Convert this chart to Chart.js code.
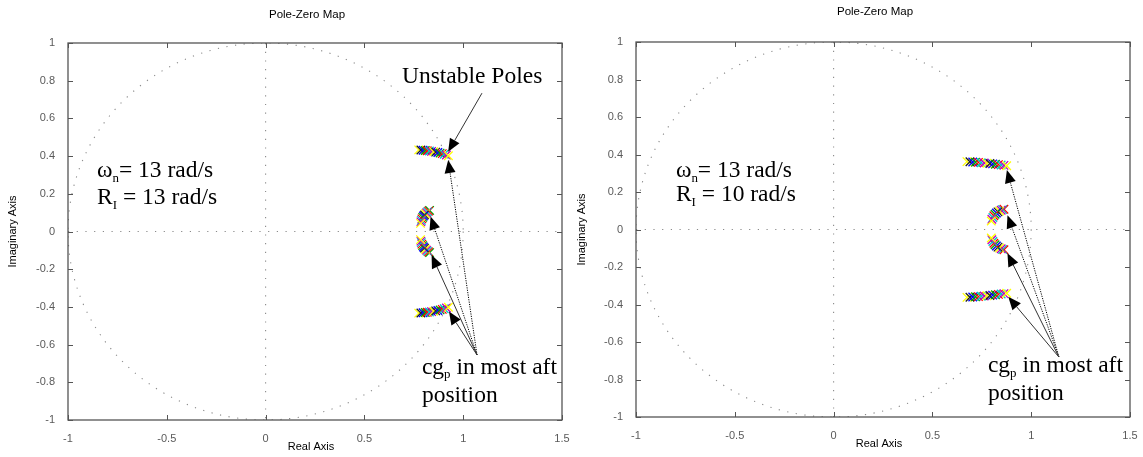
<!DOCTYPE html>
<html><head><meta charset="utf-8">
<script src="https://cdn.jsdelivr.net/npm/chart.js@4.4.0/dist/chart.umd.min.js"></script>
<style>
html,body{margin:0;padding:0;background:#fff;}
#wrap{position:relative;width:1143px;height:457px;overflow:hidden;}
canvas{position:absolute;top:0;}
</style></head><body>
<div id="wrap">
<canvas id="c1" width="585" height="457" style="left:0;width:585px;height:457px"></canvas>
<canvas id="c2" width="572" height="457" style="left:571px;width:572px;height:457px"></canvas>
</div>
<script>
// ---- tick labels ----
const xTickValues = [-1, -0.5, 0, 0.5, 1, 1.5];
const xTickLabels = ['-1', '-0.5', '0', '0.5', '1', '1.5'];
const yTickValues = [-1, -0.8, -0.6, -0.4, -0.2, 0, 0.2, 0.4, 0.6, 0.8, 1];
const yTickLabels = ['-1', '-0.8', '-0.6', '-0.4', '-0.2', '0', '0.2', '0.4', '0.6', '0.8', '1'];

// ---- left map (wn = 13, RI = 13) pole branches ----
const leftUpperRe = [0.775, 0.786, 0.797, 0.808, 0.818, 0.829, 0.840, 0.851, 0.861, 0.872, 0.883, 0.894, 0.904, 0.915, 0.925];
const leftUpperIm = [0.433, 0.432, 0.431, 0.430, 0.428, 0.427, 0.425, 0.423, 0.421, 0.419, 0.416, 0.413, 0.410, 0.406, 0.402];
const leftLowerRe = [0.775, 0.786, 0.797, 0.808, 0.818, 0.829, 0.840, 0.851, 0.861, 0.872, 0.883, 0.894, 0.904, 0.915, 0.925];
const leftLowerIm = [-0.433, -0.432, -0.431, -0.430, -0.428, -0.427, -0.425, -0.423, -0.421, -0.419, -0.416, -0.413, -0.410, -0.406, -0.402];
const leftMidUpperRe = [0.830, 0.825, 0.819, 0.814, 0.809, 0.804, 0.799, 0.795, 0.791, 0.788, 0.786, 0.784];
const leftMidUpperIm = [0.112, 0.108, 0.104, 0.099, 0.094, 0.088, 0.082, 0.075, 0.067, 0.059, 0.051, 0.043];
const leftMidLowerRe = [0.830, 0.825, 0.819, 0.814, 0.809, 0.804, 0.799, 0.795, 0.791, 0.788, 0.786, 0.784];
const leftMidLowerIm = [-0.112, -0.108, -0.104, -0.099, -0.094, -0.088, -0.082, -0.075, -0.067, -0.059, -0.051, -0.043];

// ---- right map (wn = 13, RI = 10) pole branches ----
const rightUpperRe = [0.675, 0.690, 0.704, 0.718, 0.733, 0.747, 0.762, 0.776, 0.791, 0.805, 0.819, 0.834, 0.848, 0.862, 0.876];
const rightUpperIm = [0.362, 0.361, 0.360, 0.359, 0.358, 0.356, 0.355, 0.353, 0.352, 0.350, 0.348, 0.346, 0.344, 0.342, 0.340];
const rightLowerRe = [0.675, 0.690, 0.704, 0.718, 0.733, 0.747, 0.762, 0.776, 0.791, 0.805, 0.819, 0.834, 0.848, 0.862, 0.876];
const rightLowerIm = [-0.362, -0.361, -0.360, -0.359, -0.358, -0.356, -0.355, -0.353, -0.352, -0.350, -0.348, -0.346, -0.344, -0.342, -0.340];
const rightMidUpperRe = [0.862, 0.855, 0.848, 0.840, 0.832, 0.824, 0.817, 0.811, 0.806, 0.801, 0.798];
const rightMidUpperIm = [0.108, 0.106, 0.103, 0.099, 0.094, 0.088, 0.081, 0.073, 0.064, 0.055, 0.045];
const rightMidLowerRe = [0.862, 0.855, 0.848, 0.840, 0.832, 0.824, 0.817, 0.811, 0.806, 0.801, 0.798];
const rightMidLowerIm = [-0.108, -0.106, -0.103, -0.099, -0.094, -0.088, -0.081, -0.073, -0.064, -0.055, -0.045];

// ---- annotation texts ----
const leftNotes = { wn: '= 13 rad/s', ri: ' = 13 rad/s' };
const rightNotes = { wn: '= 13 rad/s', ri: ' = 10 rad/s' };

const palette = ['#0000ff', '#00a000', '#ff0000', '#00c8c8', '#c000c0', '#ffff00', '#202020'];

function branch(re, im) {
  return {
    type: 'scatter',
    data: re.map((v, i) => ({ x: v, y: im[i] })),
    pointStyle: 'crossRot',
    pointRadius: 6,
    pointHoverRadius: 6,
    pointBorderWidth: 1.3,
    pointBorderColor: (c) => {
      const n = c.dataset.data.length;
      const k = ((5 - (n - 1 - c.dataIndex)) % 7 + 7) % 7;
      return palette[k];
    },
    pointBackgroundColor: 'rgba(0,0,0,0)',
    showLine: false
  };
}

function richText(ctx, parts, x, y, size) {
  let cx = x;
  for (const p of parts) {
    if (p.sub) {
      ctx.font = (size * 0.55) + 'px "Liberation Serif", "Times New Roman", serif';
      ctx.fillText(p.t, cx, y + size * 0.2);
    } else {
      ctx.font = size + 'px "Liberation Serif", "Times New Roman", serif';
      ctx.fillText(p.t, cx, y);
    }
    cx += ctx.measureText(p.t).width;
  }
}

function arrow(ctx, x0, y0, x1, y1, dashed) {
  const a = Math.atan2(y1 - y0, x1 - x0);
  const L = 13, W = 5.5;
  const bx = x1 - L * Math.cos(a), by = y1 - L * Math.sin(a);
  ctx.save();
  ctx.strokeStyle = dashed ? '#000' : '#333';
  ctx.lineWidth = 1;
  ctx.setLineDash(dashed ? [1.2, 1.2] : []);
  ctx.beginPath(); ctx.moveTo(x0, y0); ctx.lineTo(bx, by); ctx.stroke();
  ctx.setLineDash([]);
  ctx.fillStyle = '#000';
  ctx.beginPath();
  ctx.moveTo(x1, y1);
  ctx.lineTo(bx - W * Math.sin(a), by + W * Math.cos(a));
  ctx.lineTo(bx + W * Math.sin(a), by - W * Math.cos(a));
  ctx.closePath(); ctx.fill();
  ctx.restore();
}

const pzDecor = {
  id: 'pzDecor',
  beforeDatasetsDraw(chart, args, o) {
    const { ctx, chartArea: ca, scales: { x, y } } = chart;
    ctx.save();
    ctx.beginPath(); ctx.rect(ca.left, ca.top, ca.right - ca.left, ca.bottom - ca.top); ctx.clip();
    ctx.strokeStyle = '#8a8a8a'; ctx.lineWidth = 1.1; ctx.setLineDash([1.2, 7.5]);
    ctx.beginPath(); ctx.moveTo(x.getPixelForValue(0), ca.top); ctx.lineTo(x.getPixelForValue(0), ca.bottom); ctx.stroke();
    ctx.beginPath(); ctx.moveTo(ca.left, y.getPixelForValue(0)); ctx.lineTo(ca.right, y.getPixelForValue(0)); ctx.stroke();
    const cx = x.getPixelForValue(0), cy = y.getPixelForValue(0);
    const rx = x.getPixelForValue(1) - cx, ry = cy - y.getPixelForValue(1);
    ctx.beginPath(); ctx.ellipse(cx, cy, rx, ry, 0, 0, Math.PI * 2); ctx.stroke();
    ctx.restore();
  },
  afterDatasetsDraw(chart, args, o) {
    const { ctx, chartArea: ca, scales: { x, y } } = chart;
    ctx.save();
    // box
    ctx.strokeStyle = '#555'; ctx.lineWidth = 1.3; ctx.setLineDash([]);
    ctx.strokeRect(ca.left, ca.top, ca.right - ca.left, ca.bottom - ca.top);
    // inner ticks
    ctx.lineWidth = 1; ctx.strokeStyle = '#555';
    ctx.beginPath();
    xTickValues.forEach(v => {
      const px = Math.round(x.getPixelForValue(v)) + 0.5;
      ctx.moveTo(px, ca.bottom); ctx.lineTo(px, ca.bottom - 5);
      ctx.moveTo(px, ca.top); ctx.lineTo(px, ca.top + 5);
    });
    yTickValues.forEach(v => {
      const py = Math.round(y.getPixelForValue(v)) + 0.5;
      ctx.moveTo(ca.left, py); ctx.lineTo(ca.left + 5, py);
      ctx.moveTo(ca.right, py); ctx.lineTo(ca.right - 5, py);
    });
    ctx.stroke();
    // titles
    ctx.fillStyle = '#000';
    ctx.font = '11.5px "Liberation Sans", Arial, sans-serif';
    ctx.textAlign = 'center'; ctx.textBaseline = 'middle';
    const mid = (ca.left + ca.right) / 2;
    ctx.fillText('Pole-Zero Map', mid - 8, o.titleY);
    ctx.font = '11px "Liberation Sans", Arial, sans-serif';
    ctx.fillText('Real Axis', mid - 4, o.xlabelY);
    ctx.save();
    ctx.translate(o.ylabelX, (ca.top + ca.bottom) / 2);
    ctx.rotate(-Math.PI / 2);
    ctx.fillText('Imaginary Axis', 0, 0);
    ctx.restore();
    // notes
    ctx.textAlign = 'left'; ctx.textBaseline = 'alphabetic';
    const fs = 23.5;
    const n = o.notes;
    richText(ctx, [{ t: 'ω' }, { t: 'n', sub: true }, { t: n.wn }], x.getPixelForValue(n.pos[0]), y.getPixelForValue(n.pos[1]), fs);
    richText(ctx, [{ t: 'R' }, { t: 'I', sub: true }, { t: n.ri }], x.getPixelForValue(n.pos[0]), y.getPixelForValue(n.pos[2]), fs);
    richText(ctx, [{ t: 'cg' }, { t: 'p', sub: true }, { t: ' in most aft' }], x.getPixelForValue(o.cg[0]), y.getPixelForValue(o.cg[1]), fs);
    richText(ctx, [{ t: 'position' }], x.getPixelForValue(o.cg[0]), y.getPixelForValue(o.cg[2]), fs);
    if (o.unstable) {
      richText(ctx, [{ t: 'Unstable Poles' }], x.getPixelForValue(o.unstable.pos[0]), y.getPixelForValue(o.unstable.pos[1]), fs);
      const a = o.unstable.arrow;
      arrow(ctx, x.getPixelForValue(a[0]), y.getPixelForValue(a[1]), x.getPixelForValue(a[2]), y.getPixelForValue(a[3]), false);
    }
    const org = o.origin;
    o.tips.forEach(t => arrow(ctx, x.getPixelForValue(org[0]), y.getPixelForValue(org[1]), x.getPixelForValue(t[0]), y.getPixelForValue(t[1]), t[2]));
    ctx.restore();
  }
};

function makeChart(id, datasets, pad, axisH, axisW, deco) {
  return new Chart(document.getElementById(id), {
    type: 'scatter',
    data: { datasets },
    plugins: [pzDecor],
    options: {
      responsive: false,
      animation: false,
      events: [],
      layout: { padding: { top: pad.top, right: pad.right, left: 0, bottom: 0 } },
      plugins: { legend: { display: false }, tooltip: { enabled: false }, title: { display: false }, pzDecor: deco },
      scales: {
        x: {
          type: 'linear', min: -1, max: 1.5,
          afterBuildTicks: s => { s.ticks = xTickValues.map(v => ({ value: v })); },
          afterFit: s => { s.height = axisH; },
          grid: { display: false }, border: { display: false },
          ticks: { padding: 4, color: '#5a5a5a', font: { family: '"Liberation Sans", Arial, sans-serif', size: 11 },
                   maxRotation: 0, autoSkip: false,
                   callback: (v, i) => xTickLabels[i] }
        },
        y: {
          type: 'linear', min: -1, max: 1,
          afterBuildTicks: s => { s.ticks = yTickValues.map(v => ({ value: v })); },
          afterFit: s => { s.width = axisW; },
          grid: { display: false }, border: { display: false },
          ticks: { padding: 5, color: '#5a5a5a', font: { family: '"Liberation Sans", Arial, sans-serif', size: 11 },
                   autoSkip: false,
                   callback: (v, i) => yTickLabels[i] }
        }
      }
    }
  });
}

makeChart('c1',
  [branch(leftUpperRe, leftUpperIm), branch(leftLowerRe, leftLowerIm), branch(leftMidUpperRe, leftMidUpperIm), branch(leftMidLowerRe, leftMidLowerIm)],
  { top: 43, right: 23 }, 37, 68,
  {
    titleY: 15, xlabelY: 447, ylabelX: 13,
    notes: { wn: leftNotes.wn, ri: leftNotes.ri, pos: [-0.853, 0.289, 0.146] },
    cg: [0.791, -0.754, -0.904],
    unstable: { pos: [0.69, 0.788], arrow: [1.095, 0.734, 0.924, 0.423] },
    origin: [1.07, -0.655],
    tips: [[0.924, 0.379, true], [0.835, 0.079, true], [0.84, -0.125, false], [0.928, -0.425, false]]
  });

makeChart('c2',
  [branch(rightUpperRe, rightUpperIm), branch(rightLowerRe, rightLowerIm), branch(rightMidUpperRe, rightMidUpperIm), branch(rightMidLowerRe, rightMidLowerIm)],
  { top: 42, right: 13 }, 40, 65,
  {
    titleY: 12, xlabelY: 444, ylabelX: 11,
    notes: { wn: rightNotes.wn, ri: rightNotes.ri, pos: [-0.798, 0.279, 0.153] },
    cg: [0.781, -0.759, -0.909],
    unstable: null,
    origin: [1.14, -0.68],
    tips: [[0.877, 0.317, true], [0.88, 0.076, true], [0.88, -0.127, false], [0.884, -0.359, false]]
  });
</script>
</body></html>
